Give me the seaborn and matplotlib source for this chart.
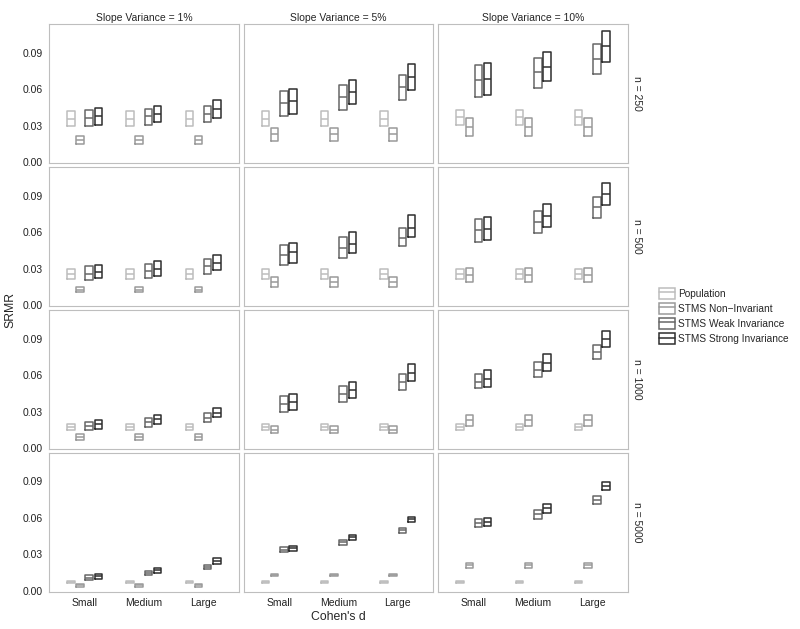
import pandas as pd
import matplotlib.pyplot as plt
import seaborn as sns
from matplotlib.patches import Patch
from matplotlib.lines import Line2D

# facet levels
n_levels = ["n = 250", "n = 500", "n = 1000", "n = 5000"]
slope_levels = ["Slope Variance = 1%", "Slope Variance = 5%", "Slope Variance = 10%"]
d_levels = ["Small", "Medium", "Large"]
groups = ["Population", "STMS Non\u2212Invariant", "STMS Weak Invariance", "STMS Strong Invariance"]
colors = ["#BDBDBD", "#9A9A9A", "#676767", "#2E2E2E"]

# box stats (lower hinge, median, upper hinge); rows = n, columns = 1%(S,M,L), 5%(S,M,L), 10%(S,M,L)
pop_lo = [[.030, .030, .030, .030, .030, .030, .031, .031, .031],
          [.0215, .0215, .0215, .0215, .0215, .0215, .0215, .0215, .0215],
          [.0150, .0150, .0150, .0150, .0150, .0150, .0150, .0150, .0150],
          [.0062, .0062, .0062, .0062, .0062, .0062, .0062, .0062, .0062]]
pop_med = [[.036, .036, .036, .036, .036, .036, .037, .037, .037],
           [.0255, .0255, .0255, .0255, .0255, .0255, .0255, .0255, .0255],
           [.0172, .0172, .0172, .0172, .0172, .0172, .0172, .0172, .0172],
           [.0074, .0074, .0074, .0074, .0074, .0074, .0074, .0074, .0074]]
pop_hi = [[.042, .042, .042, .042, .042, .042, .043, .043, .043],
          [.0295, .0295, .0295, .0295, .0295, .0295, .0295, .0295, .0295],
          [.0196, .0196, .0196, .0196, .0196, .0196, .0196, .0196, .0196],
          [.0086, .0086, .0086, .0086, .0086, .0086, .0086, .0086, .0086]]

non_lo = [[.015, .015, .015, .0175, .0175, .0175, .0215, .0215, .0215],
          [.0105, .0105, .0105, .0150, .0150, .0150, .0195, .0195, .0195],
          [.0070, .0070, .0070, .0125, .0125, .0125, .0185, .0185, .0185],
          [.0035, .0035, .0035, .0120, .0120, .0120, .0192, .0192, .0192]]
non_med = [[.0185, .0185, .0185, .0230, .0230, .0230, .0290, .0290, .0290],
           [.0128, .0128, .0128, .0190, .0190, .0190, .0250, .0250, .0250],
           [.0092, .0092, .0092, .0150, .0150, .0150, .0230, .0230, .0230],
           [.0047, .0047, .0047, .0130, .0130, .0130, .0211, .0211, .0211]]
non_hi = [[.022, .022, .022, .028, .028, .028, .0365, .0365, .0365],
          [.0152, .0152, .0152, .0235, .0235, .0235, .0305, .0305, .0305],
          [.0114, .0114, .0114, .0178, .0178, .0178, .0272, .0272, .0272],
          [.0060, .0060, .0060, .0140, .0140, .0140, .0230, .0230, .0230]]

weak_lo = [[.0297, .031, .033, .038, .0433, .0515, .054, .061, .0725],
           [.021, .022, .026, .0334, .039, .049, .0523, .0593, .0713],
           [.015, .0177, .0217, .0298, .038, .048, .049, .0585, .0735],
           [.0088, .0129, .0178, .032, .038, .048, .0526, .0595, .0718]]
weak_med = [[.0365, .038, .040, .0488, .0534, .0616, .0673, .0738, .0848],
            [.026, .028, .032, .0416, .047, .0555, .0618, .0683, .0806],
            [.0182, .0212, .0245, .0363, .0445, .054, .0545, .064, .079],
            [.011, .0147, .0197, .034, .040, .050, .056, .063, .075]]
weak_hi = [[.0433, .044, .0466, .059, .0635, .0714, .080, .0856, .097],
           [.032, .034, .038, .0498, .056, .0637, .0711, .0773, .089],
           [.0217, .0245, .0286, .0429, .051, .061, .061, .071, .085],
           [.0129, .0164, .0217, .036, .042, .052, .0595, .0663, .078]]

strong_lo = [[.0308, .033, .0368, .0398, .048, .0597, .0556, .0665, .0828],
             [.022, .024, .029, .035, .043, .056, .0534, .0646, .0822],
             [.0158, .0199, .0253, .0314, .041, .055, .0505, .0634, .083],
             [.0096, .0151, .0225, .033, .042, .057, .0534, .0644, .0833]]
strong_med = [[.0378, .040, .0441, .0507, .0578, .070, .0687, .0787, .0956],
              [.027, .030, .035, .044, .050, .0635, .0629, .0732, .091],
              [.0196, .0237, .0286, .038, .048, .0615, .057, .070, .0895],
              [.0121, .0171, .0248, .035, .044, .059, .0568, .0678, .0865]]
strong_hi = [[.0444, .0466, .0509, .0605, .0676, .0804, .0815, .091, .108],
             [.033, .036, .041, .0514, .060, .0743, .0724, .0828, .100],
             [.0231, .0272, .0327, .0445, .054, .069, .064, .0775, .096],
             [.0143, .0192, .0271, .037, .046, .061, .0603, .0713, .0898]]

stats = {
    groups[0]: (pop_lo, pop_med, pop_hi),
    groups[1]: (non_lo, non_med, non_hi),
    groups[2]: (weak_lo, weak_med, weak_hi),
    groups[3]: (strong_lo, strong_med, strong_hi),
}

# expand each box into 5 values so the quartiles land on the hinges
records = []
for g in groups:
    lo, med, hi = stats[g]
    for ri, n in enumerate(n_levels):
        for ci, s in enumerate(slope_levels):
            for di, d in enumerate(d_levels):
                k = ci * 3 + di
                for v in (lo[ri][k], lo[ri][k], med[ri][k], hi[ri][k], hi[ri][k]):
                    records.append({"n": n, "slope": s, "d": d, "group": g, "SRMR": v})
df = pd.DataFrame(records)

sns.set_style("white")
plt.rcParams['font.family'] = ['Liberation Sans', 'DejaVu Sans']

g = sns.FacetGrid(df, row="n", col="slope", row_order=n_levels, col_order=slope_levels,
                  margin_titles=True, despine=False, height=1.4, aspect=1.36)
g.map_dataframe(sns.boxplot, x="d", y="SRMR", hue="group", order=d_levels,
                hue_order=groups, palette=colors, fill=False, width=0.62, gap=0.18,
                showcaps=False, linewidth=1.1, legend=False)

g.set_titles(row_template="{row_name}", col_template="{col_name}", size=7.5)
for ax in g.axes[0]:
    ax.set_title(ax.get_title(), pad=2, fontsize=7.5)
g.set_axis_labels("", "")
g.set(ylim=(-0.0008, 0.1136), yticks=[0.0, 0.03, 0.06, 0.09], xlim=(-0.6, 2.6))

for ax in g.axes.flat:
    for sp in ax.spines.values():
        sp.set_color("#BEBEBE")
        sp.set_linewidth(0.8)
    ax.tick_params(axis="both", labelsize=7.5, length=3, width=0.8, color="#333333",
                   pad=1.5, labelcolor="#222222")
for ax in g.axes[:, 0]:
    ax.set_yticks([0.0, 0.03, 0.06, 0.09])
    ax.set_yticklabels(["0.00", "0.03", "0.06", "0.09"])

fig = g.figure
fig.set_size_inches(8, 6.29)
fig.subplots_adjust(left=49 / 800, right=628 / 800, top=1 - 24 / 629, bottom=1 - 592 / 629,
                    wspace=5 / 190, hspace=3.5 / 139)

fig.text(338 / 800, 1 - 617 / 629, "Cohen's d", ha="center", va="center", fontsize=8.8)
fig.text(10 / 800, 1 - 310 / 629, "SRMR", ha="center", va="center", rotation=90, fontsize=8.8)

handles = [(Patch(facecolor="white", edgecolor=c, linewidth=1.1),
            Line2D([], [], color=c, linewidth=1.1)) for c in colors]
fig.legend(handles, groups, loc="center left", bbox_to_anchor=(659 / 800, 1 - 316 / 629),
           frameon=False, fontsize=7.3, handlelength=1.6, handleheight=1.3,
           labelspacing=0.4, handletextpad=0.25, borderpad=0, borderaxespad=0)

plt.savefig("out.png", dpi=100)
